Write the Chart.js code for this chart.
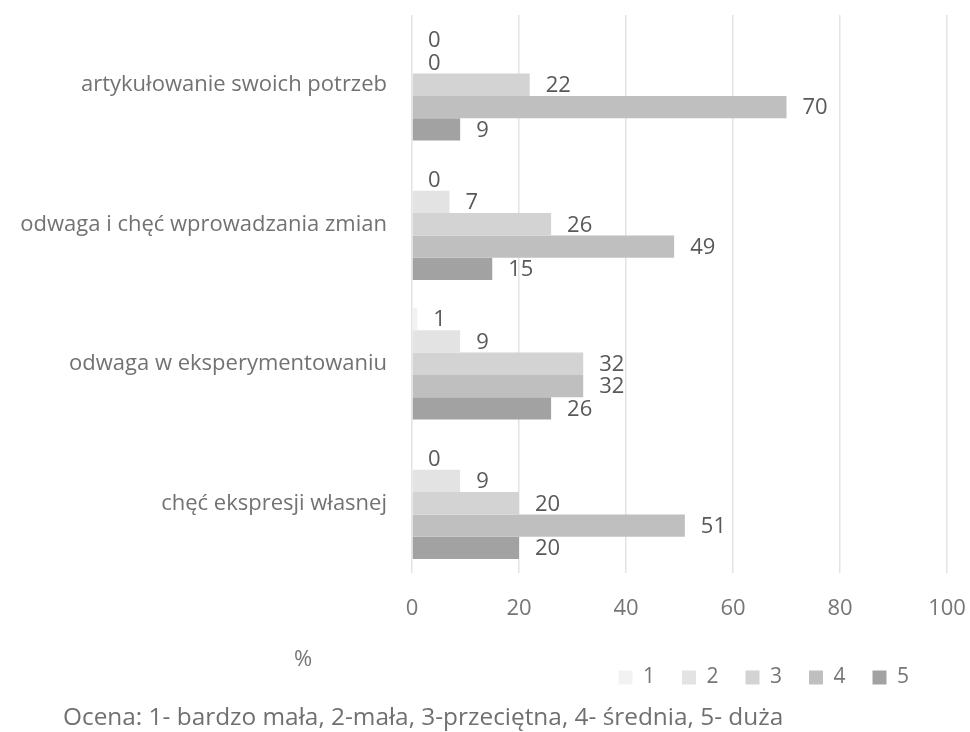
<!DOCTYPE html>
<html lang="pl">
<head>
<meta charset="utf-8">
<title>Ocena cech</title>
<script src="https://cdn.jsdelivr.net/npm/chart.js@4.4.1/dist/chart.umd.min.js"></script>
<style>
  html, body { margin: 0; padding: 0; background: #ffffff; }
  #wrap { position: relative; width: 970px; height: 732px; }
</style>
</head>
<body>
<div id="wrap"><canvas id="chart" width="970" height="732"></canvas></div>
<script>
// Categories (top to bottom)
const categories = [
  'artykułowanie swoich potrzeb',
  'odwaga i chęć wprowadzania zmian',
  'odwaga w eksperymentowaniu',
  'chęć ekspresji własnej'
];

// Rating series 1..5, values in %
const seriesNames = ['1', '2', '3', '4', '5'];
const rating1 = [0, 0, 1, 0];
const rating2 = [0, 7, 9, 9];
const rating3 = [22, 26, 32, 20];
const rating4 = [70, 49, 32, 51];
const rating5 = [9, 15, 26, 20];

const xTicks = [0, 20, 40, 60, 80, 100];
const axisUnit = '%';
const noteText = 'Ocena: 1- bardzo mała, 2-mała, 3-przeciętna, 4- średnia, 5- duża';

const seriesColors = ['#f2f2f2', '#e3e3e3', '#d3d3d3', '#bfbfbf', '#a2a2a2'];
const FONT = "'Open Sans', 'DejaVu Sans', sans-serif";

const values = [rating1, rating2, rating3, rating4, rating5];
const datasets = values.map((vals, i) => ({
  label: seriesNames[i],
  data: vals,
  backgroundColor: seriesColors[i],
  borderWidth: 0,
  categoryPercentage: 0.8,
  barPercentage: 1.0
}));

// Value labels written just past the end of each bar
const valueLabels = {
  id: 'valueLabels',
  afterDatasetsDraw(chart) {
    const ctx = chart.ctx;
    ctx.save();
    ctx.font = '22px ' + FONT;
    ctx.fillStyle = '#595959';
    ctx.textAlign = 'left';
    ctx.textBaseline = 'middle';
    chart.data.datasets.forEach((ds, di) => {
      const meta = chart.getDatasetMeta(di);
      meta.data.forEach((bar, i) => {
        ctx.fillText(String(ds.data[i]), bar.x + 16, bar.y + 1);
      });
    });
    ctx.restore();
  }
};

// Legend placement, unit label under the axis and the rating note at the bottom
const notes = {
  id: 'notes',
  afterLayout(chart) {
    const lg = chart.legend;
    if (!lg) return;
    const h = lg.bottom - lg.top;
    lg.top = 640;
    lg.bottom = lg.top + h;
    lg.right = 936;
  },
  afterDraw(chart) {
    const ctx = chart.ctx;
    ctx.save();
    ctx.textBaseline = 'middle';
    ctx.font = '22px ' + FONT;
    ctx.fillStyle = '#767676';
    ctx.textAlign = 'center';
    ctx.fillText(axisUnit, 303, 660);
    ctx.font = '24.4px ' + FONT;
    ctx.fillStyle = '#707070';
    ctx.textAlign = 'left';
    ctx.fillText(noteText, 63, 718);
    ctx.restore();
  }
};

new Chart(document.getElementById('chart'), {
  type: 'bar',
  data: { labels: categories, datasets },
  options: {
    indexAxis: 'y',
    responsive: false,
    animation: false,
    layout: { padding: { top: 15, right: 23, bottom: 21, left: 0 } },
    scales: {
      x: {
        min: 0,
        max: 100,
        afterBuildTicks(scale) { scale.ticks = xTicks.map(v => ({ value: v })); },
        afterFit(scale) {
          scale.height = 80;
          scale.paddingLeft = 0;
          scale.paddingRight = 0;
        },
        grid: { color: '#e3e3e3', lineWidth: 1.5, drawTicks: false },
        border: { display: false },
        ticks: { color: '#767676', font: { family: FONT, size: 22 }, padding: 23 }
      },
      y: {
        afterFit(scale) {
          scale.width = 412;
          scale.paddingTop = 0;
          scale.paddingBottom = 0;
        },
        grid: { display: false, drawTicks: false },
        border: { display: false },
        ticks: { color: '#727272', font: { family: FONT, size: 22 }, padding: 25 }
      }
    },
    plugins: {
      legend: {
        position: 'bottom',
        align: 'end',
        labels: {
          boxWidth: 14,
          boxHeight: 14,
          padding: 27,
          color: '#767676',
          font: { family: FONT, size: 21 }
        }
      },
      tooltip: { enabled: false }
    }
  },
  plugins: [valueLabels, notes]
});
</script>
</body>
</html>
